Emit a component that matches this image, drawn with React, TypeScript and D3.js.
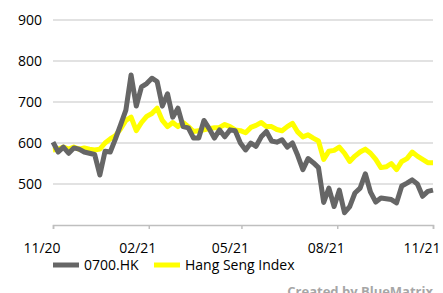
import React, { useEffect, useRef } from 'react';
import * as d3 from 'd3';

const dates = [
  '2020-11-01', '2020-11-06', '2020-11-11', '2020-11-16', '2020-11-21', '2020-11-26',
  '2020-12-01', '2020-12-06', '2020-12-11', '2020-12-16', '2020-12-21', '2020-12-26', '2020-12-31',
  '2021-01-05', '2021-01-10', '2021-01-15', '2021-01-20', '2021-01-25', '2021-01-30',
  '2021-02-04', '2021-02-09', '2021-02-14', '2021-02-19', '2021-02-24',
  '2021-03-01', '2021-03-06', '2021-03-11', '2021-03-16', '2021-03-21', '2021-03-26', '2021-03-31',
  '2021-04-05', '2021-04-10', '2021-04-15', '2021-04-20', '2021-04-25', '2021-04-30',
  '2021-05-05', '2021-05-10', '2021-05-15', '2021-05-20', '2021-05-25', '2021-05-30',
  '2021-06-04', '2021-06-09', '2021-06-14', '2021-06-19', '2021-06-24', '2021-06-29',
  '2021-07-04', '2021-07-09', '2021-07-14', '2021-07-19', '2021-07-24', '2021-07-29',
  '2021-08-03', '2021-08-08', '2021-08-13', '2021-08-18', '2021-08-23', '2021-08-28',
  '2021-09-02', '2021-09-07', '2021-09-12', '2021-09-17', '2021-09-22', '2021-09-27',
  '2021-10-02', '2021-10-07', '2021-10-12', '2021-10-17', '2021-10-22', '2021-10-27',
  '2021-11-01',
];

// 0700.HK
const tencent = [
  602, 578, 590, 575, 588, 585, 578, 575, 572, 522, 580, 578, 610,
  645, 680, 766, 690, 737, 745, 758, 750, 690, 720, 663,
  685, 640, 637, 612, 612, 655, 635, 612, 632, 615, 632, 630, 600,
  583, 600, 592, 615, 628, 605, 602, 608, 590, 600, 570, 535,
  562, 552, 540, 455, 490, 445, 485, 430, 445, 478, 490, 525,
  480, 456, 466, 464, 462, 454, 495, 502, 510, 500, 470, 482, 485,
];

// Hang Seng Index (rebased)
const hsi = [
  583, 585, 590, 585, 590, 585, 588, 585, 583, 585, 600, 610, 618,
  635, 655, 663, 630, 650, 665, 672, 685, 655, 640, 650,
  640, 650, 640, 628, 630, 632, 635, 637, 638, 645, 640, 632, 630,
  625, 638, 643, 650, 640, 640, 633, 630, 640, 648, 627, 615,
  620, 612, 605, 560, 580, 582, 590, 575, 555, 568, 578, 585,
  575, 560, 540, 542, 550, 535, 555, 562, 578, 568, 560, 552, 552,
];

const yTicks = [400, 500, 600, 700, 800, 900];
const xTicks = ['2020-11-01', '2021-02-01', '2021-05-01', '2021-08-01', '2021-11-01'];

const font = "'Open Sans', sans-serif";

export default function App() {
  const ref = useRef<SVGSVGElement>(null);

  useEffect(() => {
    if (!ref.current) return;
    const svg = d3.select(ref.current);
    svg.selectAll('*').remove();

    const parse = d3.timeParse('%Y-%m-%d');
    const x = d3.scaleTime()
      .domain([parse(dates[0])!, parse(dates[dates.length - 1])!])
      .range([53, 433]);
    const y = d3.scaleLinear().domain([400, 900]).range([225, 20]);

    // gridlines
    svg.append('g')
      .selectAll('line')
      .data(yTicks.slice(1))
      .enter()
      .append('line')
      .attr('x1', 53).attr('x2', 433)
      .attr('y1', d => y(d)).attr('y2', d => y(d))
      .attr('stroke', '#d9d9d9')
      .attr('stroke-width', 1.5);

    // y labels
    svg.append('g')
      .selectAll('text')
      .data(yTicks)
      .enter()
      .append('text')
      .attr('x', 42)
      .attr('y', d => y(d) + 5)
      .attr('text-anchor', 'end')
      .attr('font-family', font)
      .attr('font-size', 14)
      .attr('fill', '#000')
      .text(d => (d === 400 ? '' : String(d)));

    // x axis
    const tickDates = xTicks.map(d => parse(d)!);
    const axis = svg.append('g')
      .attr('transform', `translate(0,${y(400)})`)
      .call(d3.axisBottom(x).tickValues(tickDates).tickSize(4).tickFormat(() => ''));
    axis.select('.domain').attr('stroke', '#bfbfbf').attr('stroke-width', 1.5);
    axis.selectAll('.tick line').attr('stroke', '#bfbfbf').attr('stroke-width', 1.5);

    svg.append('g')
      .selectAll('text')
      .data(tickDates)
      .enter()
      .append('text')
      .attr('x', d => x(d) - 11)
      .attr('y', 253)
      .attr('text-anchor', 'middle')
      .attr('font-family', font)
      .attr('font-size', 14)
      .attr('fill', '#000')
      .text(d => d3.timeFormat('%m/%y')(d));

    const line = d3.line<number>()
      .x((_, i) => x(parse(dates[i])!))
      .y(d => y(d));

    svg.append('path')
      .datum(hsi)
      .attr('fill', 'none')
      .attr('stroke', '#ffff00')
      .attr('stroke-width', 5)
      .attr('stroke-linejoin', 'round')
      .attr('d', line);

    svg.append('path')
      .datum(tencent)
      .attr('fill', 'none')
      .attr('stroke', '#666666')
      .attr('stroke-width', 5)
      .attr('stroke-linejoin', 'round')
      .attr('d', line);

    // legend
    const legend = [
      { label: '0700.HK', color: '#666666', x: 53 },
      { label: 'Hang Seng Index', color: '#ffff00', x: 154 },
    ];
    const lg = svg.append('g');
    legend.forEach(l => {
      lg.append('line')
        .attr('x1', l.x).attr('x2', l.x + 26)
        .attr('y1', 265).attr('y2', 265)
        .attr('stroke', l.color)
        .attr('stroke-width', 5);
      lg.append('text')
        .attr('x', l.x + 31)
        .attr('y', 270)
        .attr('font-family', font)
        .attr('font-size', 14)
        .attr('fill', '#000')
        .text(l.label);
    });

    svg.append('text')
      .attr('x', 433)
      .attr('y', 296)
      .attr('text-anchor', 'end')
      .attr('font-family', font)
      .attr('font-size', 13)
      .attr('font-weight', 'bold')
      .attr('fill', '#a6a6a6')
      .text('Created by BlueMatrix');
  }, []);

  return (
    <svg
      ref={ref}
      width={443}
      height={293}
      style={{ position: 'absolute', top: 0, left: 0, display: 'block', background: '#fff' }}
    />
  );
}
